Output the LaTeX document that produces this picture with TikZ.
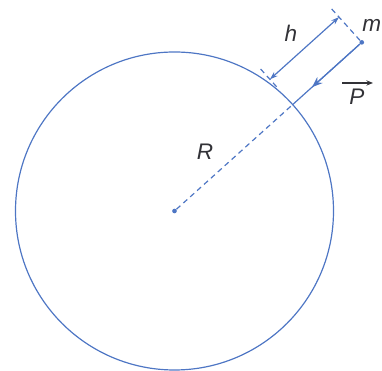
\documentclass[tikz,border=0pt]{standalone}
\usepackage{xcolor}
\usepackage{fontspec}
\setmainfont{Liberation Sans}
\usepackage{tikz}
\usetikzlibrary{arrows.meta, positioning, calc}

\definecolor{lineblue}{RGB}{78,118,196}
\definecolor{textgray}{RGB}{50,50,55}

\begin{document}
\begin{tikzpicture}[x=0.0265cm, y=0.0265cm,
    line/.style={draw=lineblue, line width=0.9pt},
    dashline/.style={line, dashed, dash pattern=on 4pt off 3pt},
    lbl/.style={text=textgray, font=\fontsize{17}{20}\selectfont\itshape},
    dot/.style={circle, fill=lineblue, inner sep=0pt, minimum size=3.5pt}]
    \useasboundingbox (0,0) rectangle (382,371);
    % Earth
    \coordinate (O) at (174.5,160);
    \draw[line] (O) circle (159);
    % Surface point and mass
    \coordinate (S) at ($(O)+(42:159)$);
    \coordinate (M) at ($(O)+(42:252)$);
    \node[dot] (centre) at (O) {};
    \node[dot] (mass) at (M) {};
    % Radius
    \draw[dashline] (centre) -- (S);
    % Weight along the radius
    \draw[line] (mass) -- (S);
    \draw[line, -{Stealth[length=8pt,width=6pt]}] (mass) -- ($(M)!0.72!(S)$);
    % Extension lines
    \coordinate (Sa) at ($(S)+(132:24)$);
    \coordinate (Sb) at ($(S)+(132:50)$);
    \coordinate (Mb) at ($(M)+(132:46)$);
    \draw[dashline] (Sa) -- (Sb);
    \draw[dashline] (mass) -- (Mb);
    % Height
    \coordinate (Hs) at ($(S)+(132:34)$);
    \coordinate (Hm) at ($(M)+(132:34)$);
    \draw[line, {Stealth[length=6pt,width=4pt]}-{Stealth[length=6pt,width=4pt]}] (Hs) -- (Hm);
    % Labels
    \node[lbl] (hlabel) at (291,338) {h};
    \node[lbl, anchor=base west, inner sep=0pt] (mlabel) at (362,339) {m};
    \node[lbl, inner sep=0pt] (Plabel) at (357,274) {P};
    \draw[draw=textgray, line width=0.9pt, -{Stealth[length=5pt,width=4pt]}]
        ($(Plabel.north)+(-15,6)$) -- ($(Plabel.north)+(16,6)$);
    \node[lbl] (Rlabel) at (205,219) {R};
\end{tikzpicture}
\end{document}
